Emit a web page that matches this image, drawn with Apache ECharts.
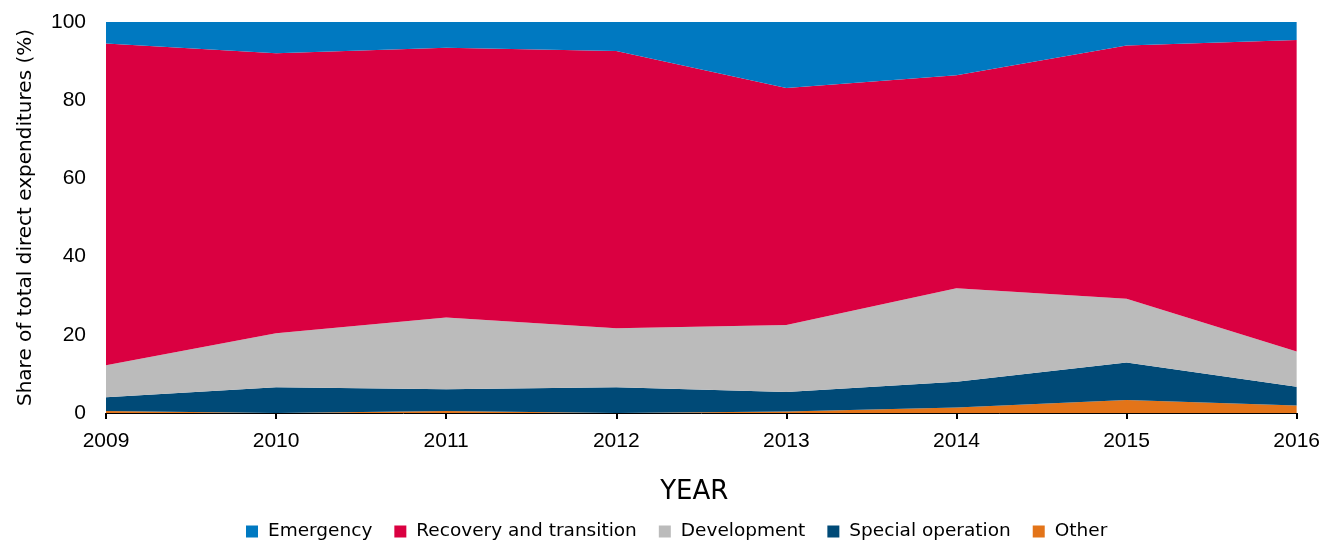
<!DOCTYPE html>
<html>
<head>
<meta charset="utf-8">
<script src="https://cdn.jsdelivr.net/npm/echarts@6/dist/echarts.min.js"></script>
<style>
html,body{margin:0;padding:0;background:#fff;}
#chart{width:1323px;height:541px;}
</style>
</head>
<body>
<div id="chart"></div>
<script>
// years
var years = ['2009', '2010', '2011', '2012', '2013', '2014', '2015', '2016'];
// share of total direct expenditures (%)
var emergency = [5.5, 8.0, 6.6, 7.4, 16.9, 13.6, 6.0, 4.6];
var recovery = [82.3, 71.6, 69.0, 70.9, 60.6, 54.5, 64.8, 79.7];
var development = [8.2, 13.8, 18.3, 15.1, 17.1, 23.9, 16.3, 9.0];
var specialOp = [3.5, 6.6, 5.6, 6.6, 5.0, 6.6, 9.6, 4.8];
var other = [0.5, 0, 0.5, 0, 0.4, 1.4, 3.3, 1.9];
var yTicks = [0, 20, 40, 60, 80, 100];

var legendNames = ['Emergency', 'Recovery and transition', 'Development', 'Special operation', 'Other'];

function areaSeries(name, data, color) {
    return {
        name: name,
        type: 'line',
        stack: 'total',
        data: data,
        showSymbol: false,
        symbol: 'none',
        lineStyle: {width: 0},
        itemStyle: {color: color},
        areaStyle: {color: color, opacity: 1}
    };
}

var chart = echarts.init(document.getElementById('chart'));
var option = {
    animation: false,
    textStyle: {fontFamily: 'Liberation Sans, Arial, sans-serif'},
    grid: {left: 106, right: 25, top: 22, bottom: 128},
    legend: {
        data: legendNames,
        bottom: -5,
        left: 241,
        itemWidth: 12,
        itemHeight: 12,
        itemGap: 22,
        icon: 'rect',
        textStyle: {fontFamily: 'DejaVu Sans, Verdana, sans-serif', fontSize: 18.5, color: '#000', padding: [0, 0, 0, 5]}
    },
    xAxis: {
        type: 'category',
        data: years,
        boundaryGap: false,
        name: 'YEAR',
        nameLocation: 'middle',
        nameGap: 66,
        nameTextStyle: {fontFamily: 'DejaVu Sans, Verdana, sans-serif', fontSize: 26, color: '#000', padding: [0, 14, 0, 0]},
        axisLine: {lineStyle: {color: '#000', width: 1}},
        axisTick: {show: true, length: 6, lineStyle: {color: '#000', width: 2}},
        axisLabel: {fontSize: 21, color: '#000', margin: 18}
    },
    yAxis: {
        type: 'value',
        min: yTicks[0],
        max: yTicks[yTicks.length - 1],
        interval: 20,
        name: 'Share of total direct expenditures (%)',
        nameLocation: 'middle',
        nameGap: 70,
        nameTextStyle: {fontFamily: 'DejaVu Sans, Verdana, sans-serif', fontSize: 20, color: '#000'},
        axisLine: {show: false},
        axisTick: {show: false},
        splitLine: {show: false},
        axisLabel: {fontSize: 21, color: '#000', margin: 20}
    },
    series: [
        areaSeries('Other', other, '#E37419'),
        areaSeries('Special operation', specialOp, '#004A77'),
        areaSeries('Development', development, '#BBBBBB'),
        areaSeries('Recovery and transition', recovery, '#DA0041'),
        areaSeries('Emergency', emergency, '#0079C1')
    ]
};
chart.setOption(option);
</script>
</body>
</html>
